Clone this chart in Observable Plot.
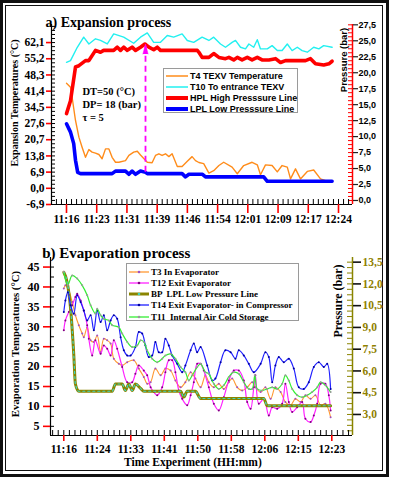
<!DOCTYPE html>
<html><head><meta charset="utf-8">
<script src="https://cdn.jsdelivr.net/npm/d3@7"></script>
<script src="https://cdn.jsdelivr.net/npm/@observablehq/plot@0.6"></script>
<style>
html,body{margin:0;padding:0;background:#fff;}
#root{position:relative;width:395px;height:480px;overflow:hidden;}
#root svg.plotsvg{position:absolute;left:0;}
.fo{position:absolute;left:0;top:0;width:383px;height:471px;border:3px solid #111;}
.fi{position:absolute;left:5px;top:5px;width:376px;height:464px;border:1px solid #111;}
.leg{position:absolute;background:#fff;border:1px solid #9a9a9a;box-sizing:border-box;}
.row{position:absolute;left:0;height:10px;display:flex;align-items:center;white-space:pre;font-weight:bold;color:#000;}
.vt{position:absolute;white-space:nowrap;line-height:1;font-weight:bold;color:#000;transform:translate(-50%,-50%) rotate(-90deg);}
</style>
</head><body>
<div id="root"><div class="fo"></div><div class="fi"></div></div>
<script>
// ---------- Panel a data ----------
const aXLabels = ["11:16","11:23","11:31","11:39","11:46","11:54","12:01","12:09","12:17","12:24"];
const aXTicks = [0, 7.56, 15.11, 22.67, 30.22, 37.78, 45.33, 52.89, 60.44, 68.0];
const aTTicks = [-6.9, 0, 6.9, 13.8, 20.7, 27.6, 34.5, 41.4, 48.3, 55.2, 62.1];
const aTLabels = ["-6,9","0,0","6,9","13,8","20,7","27,6","34,5","41,4","48,3","55,2","62,1"];
const aPTicks = [0, 2.5, 5, 7.5, 10, 12.5, 15, 17.5, 20, 22.5, 25, 27.5];
const aPLabels = ["0,0","2,5","5,0","7,5","10,0","12,5","15,0","17,5","20,0","22,5","25,0","27,5"];

const t4Min = [0,1,1.4,2.25,3.1,3.9,4.75,5.6,6.4,7.25,8.1,8.9,9.75,10.6,11.4,12.25,13.1,14.75,15.6,16.8,17.7,18.5,20.2,21.4,22.25,23.1,23.9,24.75,25.6,26.4,27.7,28.9,30.2,31.4,32.25,33.1,34.3,35.6,36.8,38.1,39.3,41.4,42.7,44.3,46.4,47.7,48.5,49.75,51.4,52.7,53.9,55.2,56,57.25,58.5,60.2,61.8,63.5,64.75,66.4];
const t4Val = [44.8,43.1,38.8,28.9,21.8,17.5,13.2,16.5,15.4,15.0,14.4,12.6,16.8,16.8,13.2,11.1,11.1,11.8,14.0,15.4,15.8,14.2,11.1,10.9,14.0,14.7,14.0,14.7,13.5,14.7,9.3,9.3,11.5,13.5,11.8,11.0,10.5,6.5,7.5,9.7,11.1,9.0,6.2,9.7,11.1,10.0,5.8,10.0,9.7,7.0,9.7,9.0,4.0,8.3,4.0,7.2,7.8,4.0,3.3,2.6];

const t10Min = [0,1,2.7,4.3,5.6,7.25,8.5,10.2,11.8,14.3,16.8,18.5,20.2,21.8,23.5,25.2,26.8,28.9,30.2,31.8,33.9,35.6,36.8,38.5,39.75,41.4,42.25,43.5,44.75,45.6,46.8,47.7,48.5,50.2,51.4,52.7,53.9,55.2,56.4,57.7,58.9,60.2,61.8,63.1,64.3,66.4];
const t10Val = [53.7,54.4,60.1,64.4,61.5,63.7,63.0,61.5,65.8,64.4,61.8,64.4,66.2,62.2,62.2,65.1,64.4,65.8,63.0,62.2,64.4,63.0,64.4,61.5,60.1,62.2,63.0,60.1,59.4,61.5,60.1,63.3,59.4,59.4,60.8,58.7,58.7,61.5,58.7,60.1,58.7,58.0,60.1,59.4,60.8,60.1];

const hplMin = [0,1,2.25,3.1,4.75,5.6,7.25,8.5,9.3,11.8,12.7,13.5,14.3,15.2,16.4,17.25,18.5,19.6,20.6,21.8,22.7,23.5,32.7,33.1,33.9,35.6,36.8,38.1,39.75,40.6,41.8,42.7,43.9,45.2,46.4,47.7,48.9,50.6,52.25,53.5,54.75,59.75,61,62.25,64.3,65.6,66.4];
const hplBar = [13.6,15.6,20.9,21.1,21.9,21.9,23.5,23.2,23.5,23.5,24.0,23.5,24.0,23.5,24.0,23.5,24.0,24.5,24.0,23.6,24.0,23.5,23.5,23.2,22.4,22.4,23.0,22.4,22.2,22.4,22.0,22.4,22.0,22.4,22.0,22.4,22.0,22.0,22.2,21.6,21.9,21.9,22.2,21.4,21.2,21.4,21.8];

const lplMin = [0,1,1.8,2.25,2.8,3.5,11.4,12.25,14.75,15.6,16.4,17.25,18.5,19.75,20.2,28.9,29.75,30.6,34.0,34.75,49.3,50.2,66.4];
const lplBar = [12.0,10.7,8.9,6.3,4.4,4.2,4.2,4.6,4.6,4.1,4.6,4.1,4.6,4.4,4.2,4.2,3.7,4.1,4.1,3.7,3.7,3.0,3.0];

const arrowMin = [19.75], arrowFromBar = [4.4], arrowToBar = [24.5];

const aLegendLabels = ["T4 TEXV Temperature","T10 To entrance TEXV","HPL High Presssure Line","LPL Low Presssure Line"];
const aNotes = ["DT=50 (°C)", "DP= 18 (bar)", "τ = 5"];

// ---------- Panel b data ----------
const bXLabels = ["11:16","11:24","11:33","11:41","11:50","11:58","12:06","12:15","12:23"];
const bXTicks = [0, 8.375, 16.75, 25.125, 33.5, 41.875, 50.25, 58.625, 67];
const bTTicks = [5,10,15,20,25,30,35,40,45];
const bTLabels = ["5","10","15","20","25","30","35","40","45"];
const bPTicks = [3.0,4.5,6.0,7.5,9.0,10.5,12.0,13.5];
const bPLabels = ["3,0","4,5","6,0","7,5","9,0","10,5","12,0","13,5"];

const t3Min = [0,0.4,1.25,2.1,2.9,3.75,4.6,5,5.85,6.7,7.5,8.35,9.2,10,10.85,11.7,12.5,13.75,14.6,15.85,17.5,18.75,20,20.85,21.7,22.9,24.2,25.4,26.7,27.9,29.2,30.4,31.7,32.9,34.2,35.4,36.25,37.5,38.75,40,41.25,42.1,43.35,44.6,45.85,47.1,47.9,49.2,50.4,51.7,52.9,54.2,55.4,56.7,57.9,59.2,60.4,61.7,62.9,64.2,65.4,66.7];
const t3Val = [39.6,40.4,39.1,36.2,32.9,30.4,28.3,27.4,29.9,26.6,26.2,27.8,23.6,27.0,26.6,25.8,22.0,20.7,20.3,21.1,21.6,19.5,17.4,15.7,16.1,19.5,17.8,19.5,19.0,16.5,14.8,16.1,18.6,17.0,14.8,17.8,16.1,14.8,15.7,14.4,16.1,17.0,14.8,14.0,14.8,16.1,14.8,13.6,14.8,11.9,14.8,13.6,11.1,10.3,11.9,11.1,12.8,11.9,12.8,10.3,10.7,7.3];

const t12Min = [0,0.4,1.25,2.1,2.9,3.35,4.2,5,5.85,6.25,7.1,7.9,9.2,10,10.85,11.7,12.5,13.35,14.6,15.85,17.1,17.9,18.75,20,20.85,21.7,22.5,23.35,24.6,25.4,26.25,27.1,27.9,28.75,29.6,30.85,31.7,32.5,33.35,34.2,35,36.25,37.5,38.75,40,41.25,42.5,43.75,45,45.85,46.7,47.5,47.9,48.75,50,51.25,52.1,53.35,54.6,55.4,56.25,57.1,58.35,59.6,60.4,61.7,62.5,63.35,64.2,65.4,66.25,66.7];
const t12Val = [29.1,31.6,33.7,35.4,37.5,38.3,36.6,34.1,30.4,27.0,22.8,26.6,23.2,25.3,24.5,22.8,26.6,24.5,19.9,16.1,16.1,18.2,20.3,19.0,17.8,14.8,13.6,12.8,14.8,18.6,21.6,21.6,18.6,14.0,11.9,10.3,12.8,16.1,20.7,20.7,19.0,14.8,10.7,9.0,12.3,16.5,19.0,19.0,16.5,11.1,9.4,14.8,17.8,10.7,11.9,7.7,9.8,9.4,10.7,15.7,11.1,8.6,9.8,11.1,6.9,6.1,7.7,10.7,15.7,15.7,12.8,9.0];

const bpMin = [0,0.85,1.7,2.5,2.9,3.75,12.1,12.9,14.6,15.4,16.25,17.1,17.9,19.2,20,29.2,30,30.85,32.9,34.2,50,50.85,66.7];
const bpBar = [12.8,12.1,10.3,7.1,5.1,4.6,4.6,5.1,5.1,4.65,5.1,4.65,5.1,4.8,4.6,4.6,4.2,4.6,4.6,4.1,4.1,3.6,3.6];

const t14Min = [0,0.4,1,1.7,2.5,3.35,4.2,5,5.85,6.7,7.5,8.35,9.2,10,10.85,11.7,12.5,13.35,14.2,15,15.85,16.7,17.9,18.75,19.6,20.4,21.25,22.1,22.9,23.75,24.6,25.4,26.25,27.1,28.35,29.6,30.4,31.7,32.5,33.35,34.2,35.85,37.1,37.9,39.2,40.4,41.7,42.9,43.75,45,46.25,47.5,49.2,50.4,51.25,52.1,52.9,53.75,55,56.25,57.5,58.75,60,61.25,62.5,63.75,65,65.85,66.7];
const t14Val = [33.7,36.6,38.7,35.4,33.3,37.9,36.2,34.1,31.6,32.9,29.1,34.1,31.2,32.9,29.1,31.6,32.9,32.0,27.4,24.1,22.8,22.8,24.9,28.7,28.3,25.3,22.4,22.8,26.2,23.6,23.6,27.0,25.3,22.8,20.7,18.6,20.3,24.1,25.8,23.6,24.9,20.3,16.5,17.0,21.1,24.1,23.6,22.0,24.1,22.8,20.7,18.6,20.7,23.6,22.4,16.1,20.3,22.4,21.1,22.0,19.5,14.8,14.4,16.1,19.9,21.1,19.9,20.7,14.4];

const t11Min = [0,1,2.1,3.35,4.6,5.85,6.7,7.9,8.35,9.2,10,11.25,12.1,13.75,14.6,15.85,17.1,18.35,19.2,20,20.85,22.1,23.35,24.6,25.4,26.7,27.9,29.2,30.4,31.25,32.1,33.35,34.2,35.4,36.25,37.5,38.75,40,41.25,42.5,43.75,45,46.25,47.1,47.75,48.35,49.6,50.85,52.1,53.35,54.6,55.4,56.25,57.1,58.35,59.6,60.85,62.1,63.35,64.2,65.4,66.7];
const t11Val = [43.8,40.5,42.9,42.1,40.4,37.9,35.4,33.3,34.5,32.9,32.0,31.6,30.4,29.9,28.3,26.2,24.9,25.3,26.6,26.2,24.1,22.0,21.1,22.0,22.8,23.2,22.0,19.9,18.6,16.5,17.8,19.9,20.7,18.6,18.2,15.7,14.4,15.3,17.4,18.6,18.2,16.1,14.4,14.4,17.8,14.4,14.0,14.4,14.8,14.4,15.7,17.8,16.5,14.4,12.8,12.3,12.8,13.6,14.8,16.1,15.3,13.6];

const bLegendLabels = ["T3 In Evaporator","T12 Exit Evaporator","BP  LPL Low Pressure Line","T14 Exit Evaporator- in Compressor","T11  Internal Air Cold Storage"];

// ---------- styles ----------
const SERIF = "'Liberation Serif','Times New Roman',serif";
const SANS = "'Liberation Sans',Arial,sans-serif";
const RED = "#ff0000", BLUE = "#0000ff", ORANGE = "#ff8c1a", CYAN = "#22f0f0", MAG = "#ff00ff";
const B_OR = "#ff9933", B_MAG = "#ff22ff", OLIVE = "#8a8400", B_BLUE = "#2020ff", B_GREEN = "#33ee33";
const OLIVE_TXT = "#8f8000";

const W = 395;
function pMapper(tDom, pDom) {
  const k = (tDom[1] - tDom[0]) / (pDom[1] - pDom[0]);
  return p => tDom[0] + (p - pDom[0]) * k;
}
const zip = (ms, vs, f = v => v) => ms.map((m, i) => ({m, v: f(vs[i])}));
const fmt = (ticks, labels) => d => labels[ticks.indexOf(d)];
const root = document.getElementById("root");

// ---------- Panel a ----------
const aH = 228, aM = {t: 24, r: 43, b: 24, l: 51};
const aXDomain = [-3.75, 71.5], aTDomain = [-6.9, 69.8], aPDomain = [-0.63, 27.55];
const aP = pMapper(aTDomain, aPDomain);
const aFW = W - aM.l - aM.r, aFH = aH - aM.t - aM.b;
const aPTicksT = aPTicks.map(aP);
const aTMinor = d3.range(-6.9, 69.8, 1.725);
const aPMinor = d3.range(0, 27.6, 0.625).map(aP);
const aXMinor = d3.range(-2, 57).map(i => i * 68 / 54).filter(m => m < aXDomain[1]);
const arrow = arrowMin.map((m, i) => ({m, from: aP(arrowFromBar[i]), to: aP(arrowToBar[i])}));

const plotA = Plot.plot({
  width: W, height: aH,
  marginTop: aM.t, marginRight: aM.r, marginBottom: aM.b, marginLeft: aM.l,
  x: {domain: aXDomain, label: null},
  y: {domain: aTDomain, label: null},
  style: {background: "transparent", fontFamily: SERIF, fontWeight: "bold", overflow: "visible"},
  marks: [
    Plot.tickY(aTMinor, {y: d => d, stroke: "#000", insetRight: aFW - 4}),
    Plot.tickY(aPMinor, {y: d => d, stroke: RED, insetLeft: aFW - 4}),
    Plot.tickX(aXMinor, {x: d => d, stroke: "#000", insetTop: aFH - 5}),
    Plot.ruleY([aTDomain[0]], {stroke: "#000", strokeWidth: 1.2}),
    Plot.ruleX([aXDomain[0]], {stroke: "#000", strokeWidth: 1.2}),
    Plot.ruleX([aXDomain[1]], {stroke: RED, strokeWidth: 1.5}),
    Plot.axisY(aTTicks, {anchor: "left", tickSize: 5, tickPadding: 2, stroke: RED, strokeWidth: 1.6, fill: "#000",
      fontSize: 11.5, fontFamily: SERIF, fontWeight: "bold", tickFormat: fmt(aTTicks, aTLabels), label: null}),
    Plot.axisY(aPTicksT, {anchor: "right", tickSize: 5, tickPadding: 1, stroke: "#222", strokeWidth: 1.2, fill: "#000",
      fontSize: 9, fontFamily: SANS, fontWeight: "bold", tickFormat: fmt(aPTicksT, aPLabels), label: null}),
    Plot.axisX(aXTicks, {anchor: "bottom", tickSize: 9, tickPadding: 1, stroke: RED, strokeWidth: 1.6, fill: "#000",
      fontSize: 11.5, fontFamily: SERIF, fontWeight: "bold", tickFormat: fmt(aXTicks, aXLabels), label: null}),
    Plot.line(zip(t4Min, t4Val), {x: "m", y: "v", stroke: ORANGE, strokeWidth: 1.4}),
    Plot.line(zip(t10Min, t10Val), {x: "m", y: "v", stroke: CYAN, strokeWidth: 1.4}),
    Plot.line(zip(hplMin, hplBar, aP), {x: "m", y: "v", stroke: RED, strokeWidth: 3.6}),
    Plot.line(zip(lplMin, lplBar, aP), {x: "m", y: "v", stroke: BLUE, strokeWidth: 3.6}),
    Plot.ruleX(arrow, {x: "m", y1: "from", y2: "to", stroke: MAG, strokeWidth: 1.8, strokeDasharray: "6,4"}),
    Plot.vector(arrow, {x: "m", y: "to", length: 10, rotate: 0, shape: "spike", anchor: "end", r: 2.6, fill: MAG, stroke: MAG, strokeWidth: 0.5}),
    Plot.text(["a) Expansion process"], {text: d => d, frameAnchor: "top-left", textAnchor: "start", dx: -6, dy: -7.5,
      fontSize: 14, fontFamily: SERIF, fontWeight: "bold", fill: "#000"}),
    Plot.text([aNotes.join("\n")], {text: d => d, frameAnchor: "top-left", textAnchor: "start", lineAnchor: "middle",
      lineHeight: 1.24, dx: 31, dy: 79, fontSize: 10.5, fontFamily: SERIF, fontWeight: "bold", fill: "#000"})
  ]
});
plotA.classList.add("plotsvg");
plotA.style.top = "0px";
root.appendChild(plotA);

// ---------- Panel b ----------
const bTop = 228, bH = 252, bM = {t: 29, r: 43, b: 45, l: 50};
const bXDomain = [-3.325, 72.175], bTDomain = [2.7, 47.4], bPDomain = [1.55, 13.82];
const bP = pMapper(bTDomain, bPDomain);
const bFW = W - bM.l - bM.r, bFH = bH - bM.t - bM.b;
const bPTicksT = bPTicks.map(bP);
const bTMinor = d3.range(5, 47.4, 2.5);
const bPMinor = d3.range(1.875, 13.82, 0.375).map(bP);
const bXMinor = d3.range(-2, 52).map(i => i * 67 / 48).filter(m => m < bXDomain[1]);
const t3 = zip(t3Min, t3Val), t12 = zip(t12Min, t12Val), t14 = zip(t14Min, t14Val), t11 = zip(t11Min, t11Val);
const bp = zip(bpMin, bpBar, bP);

const plotB = Plot.plot({
  width: W, height: bH,
  marginTop: bM.t, marginRight: bM.r, marginBottom: bM.b, marginLeft: bM.l,
  x: {domain: bXDomain, label: null},
  y: {domain: bTDomain, label: null},
  style: {background: "transparent", fontFamily: SERIF, fontWeight: "bold", overflow: "visible"},
  marks: [
    Plot.tickY(bTMinor, {y: d => d, stroke: "#000", insetRight: bFW - 4}),
    Plot.tickY(bPMinor, {y: d => d, stroke: OLIVE, insetLeft: bFW - 5}),
    Plot.tickX(bXMinor, {x: d => d, stroke: "#000", insetTop: bFH - 5}),
    Plot.ruleY([bTDomain[0]], {stroke: "#000", strokeWidth: 1.2}),
    Plot.ruleX([bXDomain[0]], {stroke: "#000", strokeWidth: 1.2}),
    Plot.ruleX([bXDomain[1]], {stroke: OLIVE, strokeWidth: 1.5}),
    Plot.axisY(bTTicks, {anchor: "left", tickSize: 7, tickPadding: 4, stroke: RED, strokeWidth: 1.6, fill: "#000",
      fontSize: 12, fontFamily: SERIF, fontWeight: "bold", tickFormat: fmt(bTTicks, bTLabels), label: null}),
    Plot.axisY(bPTicksT, {anchor: "right", tickSize: 8, tickPadding: 2, stroke: "#111", strokeWidth: 1.6, fill: OLIVE_TXT,
      fontSize: 11.5, fontFamily: SERIF, fontWeight: "bold", tickFormat: fmt(bPTicksT, bPLabels), label: null}),
    Plot.axisX(bXTicks, {anchor: "bottom", tickSize: 6, tickPadding: 3, stroke: RED, strokeWidth: 1.6, fill: "#000",
      fontSize: 11.5, fontFamily: SERIF, fontWeight: "bold", tickFormat: fmt(bXTicks, bXLabels), label: null}),
    Plot.line(t3, {x: "m", y: "v", stroke: B_OR, strokeWidth: 1.1, curve: "catmull-rom"}),
    Plot.dot(t3, {x: "m", y: "v", r: 1, fill: "#a050c0"}),
    Plot.line(t12, {x: "m", y: "v", stroke: B_MAG, strokeWidth: 1.2, curve: "catmull-rom"}),
    Plot.dot(t12, {x: "m", y: "v", r: 1, fill: "#800080"}),
    Plot.line(bp, {x: "m", y: "v", stroke: OLIVE, strokeWidth: 3, curve: "monotone-x"}),
    Plot.line(bp, {x: "m", y: "v", stroke: "#3fd6c0", strokeWidth: 1.2, strokeDasharray: "2,3", curve: "monotone-x"}),
    Plot.line(t14, {x: "m", y: "v", stroke: B_BLUE, strokeWidth: 1.2, curve: "catmull-rom"}),
    Plot.dot(t14, {x: "m", y: "v", r: 1, fill: "#0000a0"}),
    Plot.line(t11, {x: "m", y: "v", stroke: B_GREEN, strokeWidth: 1.2, curve: "catmull-rom"}),
    Plot.dot(t11, {x: "m", y: "v", r: 1, fill: "#999"}),
    Plot.text(["b) Evaporation process"], {text: d => d, frameAnchor: "top-left", textAnchor: "start", dx: -8.3, dy: -10.3,
      fontSize: 15, fontFamily: SERIF, fontWeight: "bold", fill: "#000"}),
    Plot.text(["Time Experiment (HH:mm)"], {text: d => d, frameAnchor: "bottom", dx: -8.6, dy: 30,
      fontSize: 11.5, fontFamily: SERIF, fontWeight: "bold", fill: "#000"})
  ]
});
plotB.classList.add("plotsvg");
plotB.style.top = bTop + "px";
root.appendChild(plotB);

// ---------- Rotated axis titles ----------
function vtitle(text, cx, cy, font, size) {
  const d = document.createElement("div");
  d.className = "vt";
  d.textContent = text;
  Object.assign(d.style, {left: cx + "px", top: cy + "px", fontFamily: font, fontSize: size + "px"});
  root.appendChild(d);
}
vtitle("Expansion Temperatures (°C)", 15, 103, SERIF, 10);
vtitle("Pressure (bar)", 344, 60, SANS, 9.5);
vtitle("Evaporation Temperatures (°C)", 15, 344, SERIF, 10.8);
vtitle("Pressure (bar)", 337.7, 300.5, SERIF, 12);

// ---------- Legends ----------
function legend(box, rows, font, fontSize, rowTop, rowStep, swW, textGap) {
  const div = document.createElement("div");
  div.className = "leg";
  Object.assign(div.style, {left: box[0] + "px", top: box[1] + "px", width: box[2] + "px", height: box[3] + "px"});
  rows.forEach((r, i) => {
    const row = document.createElement("div");
    row.className = "row";
    row.style.top = (rowTop + i * rowStep - 5) + "px";
    row.style.left = "2px";
    row.style.fontFamily = font;
    row.style.fontSize = fontSize + "px";
    const ns = "http://www.w3.org/2000/svg";
    const sv = document.createElementNS(ns, "svg");
    sv.setAttribute("width", swW); sv.setAttribute("height", 10);
    sv.style.marginRight = textGap + "px";
    const ln = document.createElementNS(ns, "line");
    ln.setAttribute("x1", 0); ln.setAttribute("x2", swW); ln.setAttribute("y1", 5); ln.setAttribute("y2", 5);
    ln.setAttribute("stroke", r.color); ln.setAttribute("stroke-width", r.width);
    sv.appendChild(ln);
    if (r.marker) {
      const c = document.createElementNS(ns, "circle");
      c.setAttribute("cx", swW / 2); c.setAttribute("cy", 5); c.setAttribute("r", 1.3); c.setAttribute("fill", r.marker);
      sv.appendChild(c);
    }
    row.appendChild(sv);
    row.appendChild(document.createTextNode(r.label));
    div.appendChild(row);
  });
  root.appendChild(div);
}
const aColors = [ORANGE, CYAN, RED, BLUE], aWidths = [1.5, 1.5, 4, 4];
legend([163, 68, 135, 45], aLegendLabels.map((label, i) => ({label, color: aColors[i], width: aWidths[i]})),
  SANS, 9, 7, 11, 22, 2);
const bColors = [B_OR, B_MAG, OLIVE, B_BLUE, B_GREEN], bWidths = [1.3, 1.3, 3, 1.3, 1.3];
const bMarkers = ["#a050c0", "#800080", "#3fd6c0", "#0000a0", "#999"];
legend([126, 263, 173, 58], bLegendLabels.map((label, i) => ({label, color: bColors[i], width: bWidths[i], marker: bMarkers[i]})),
  SERIF, 9, 7.7, 11.2, 20, 2);
</script>
</body></html>
